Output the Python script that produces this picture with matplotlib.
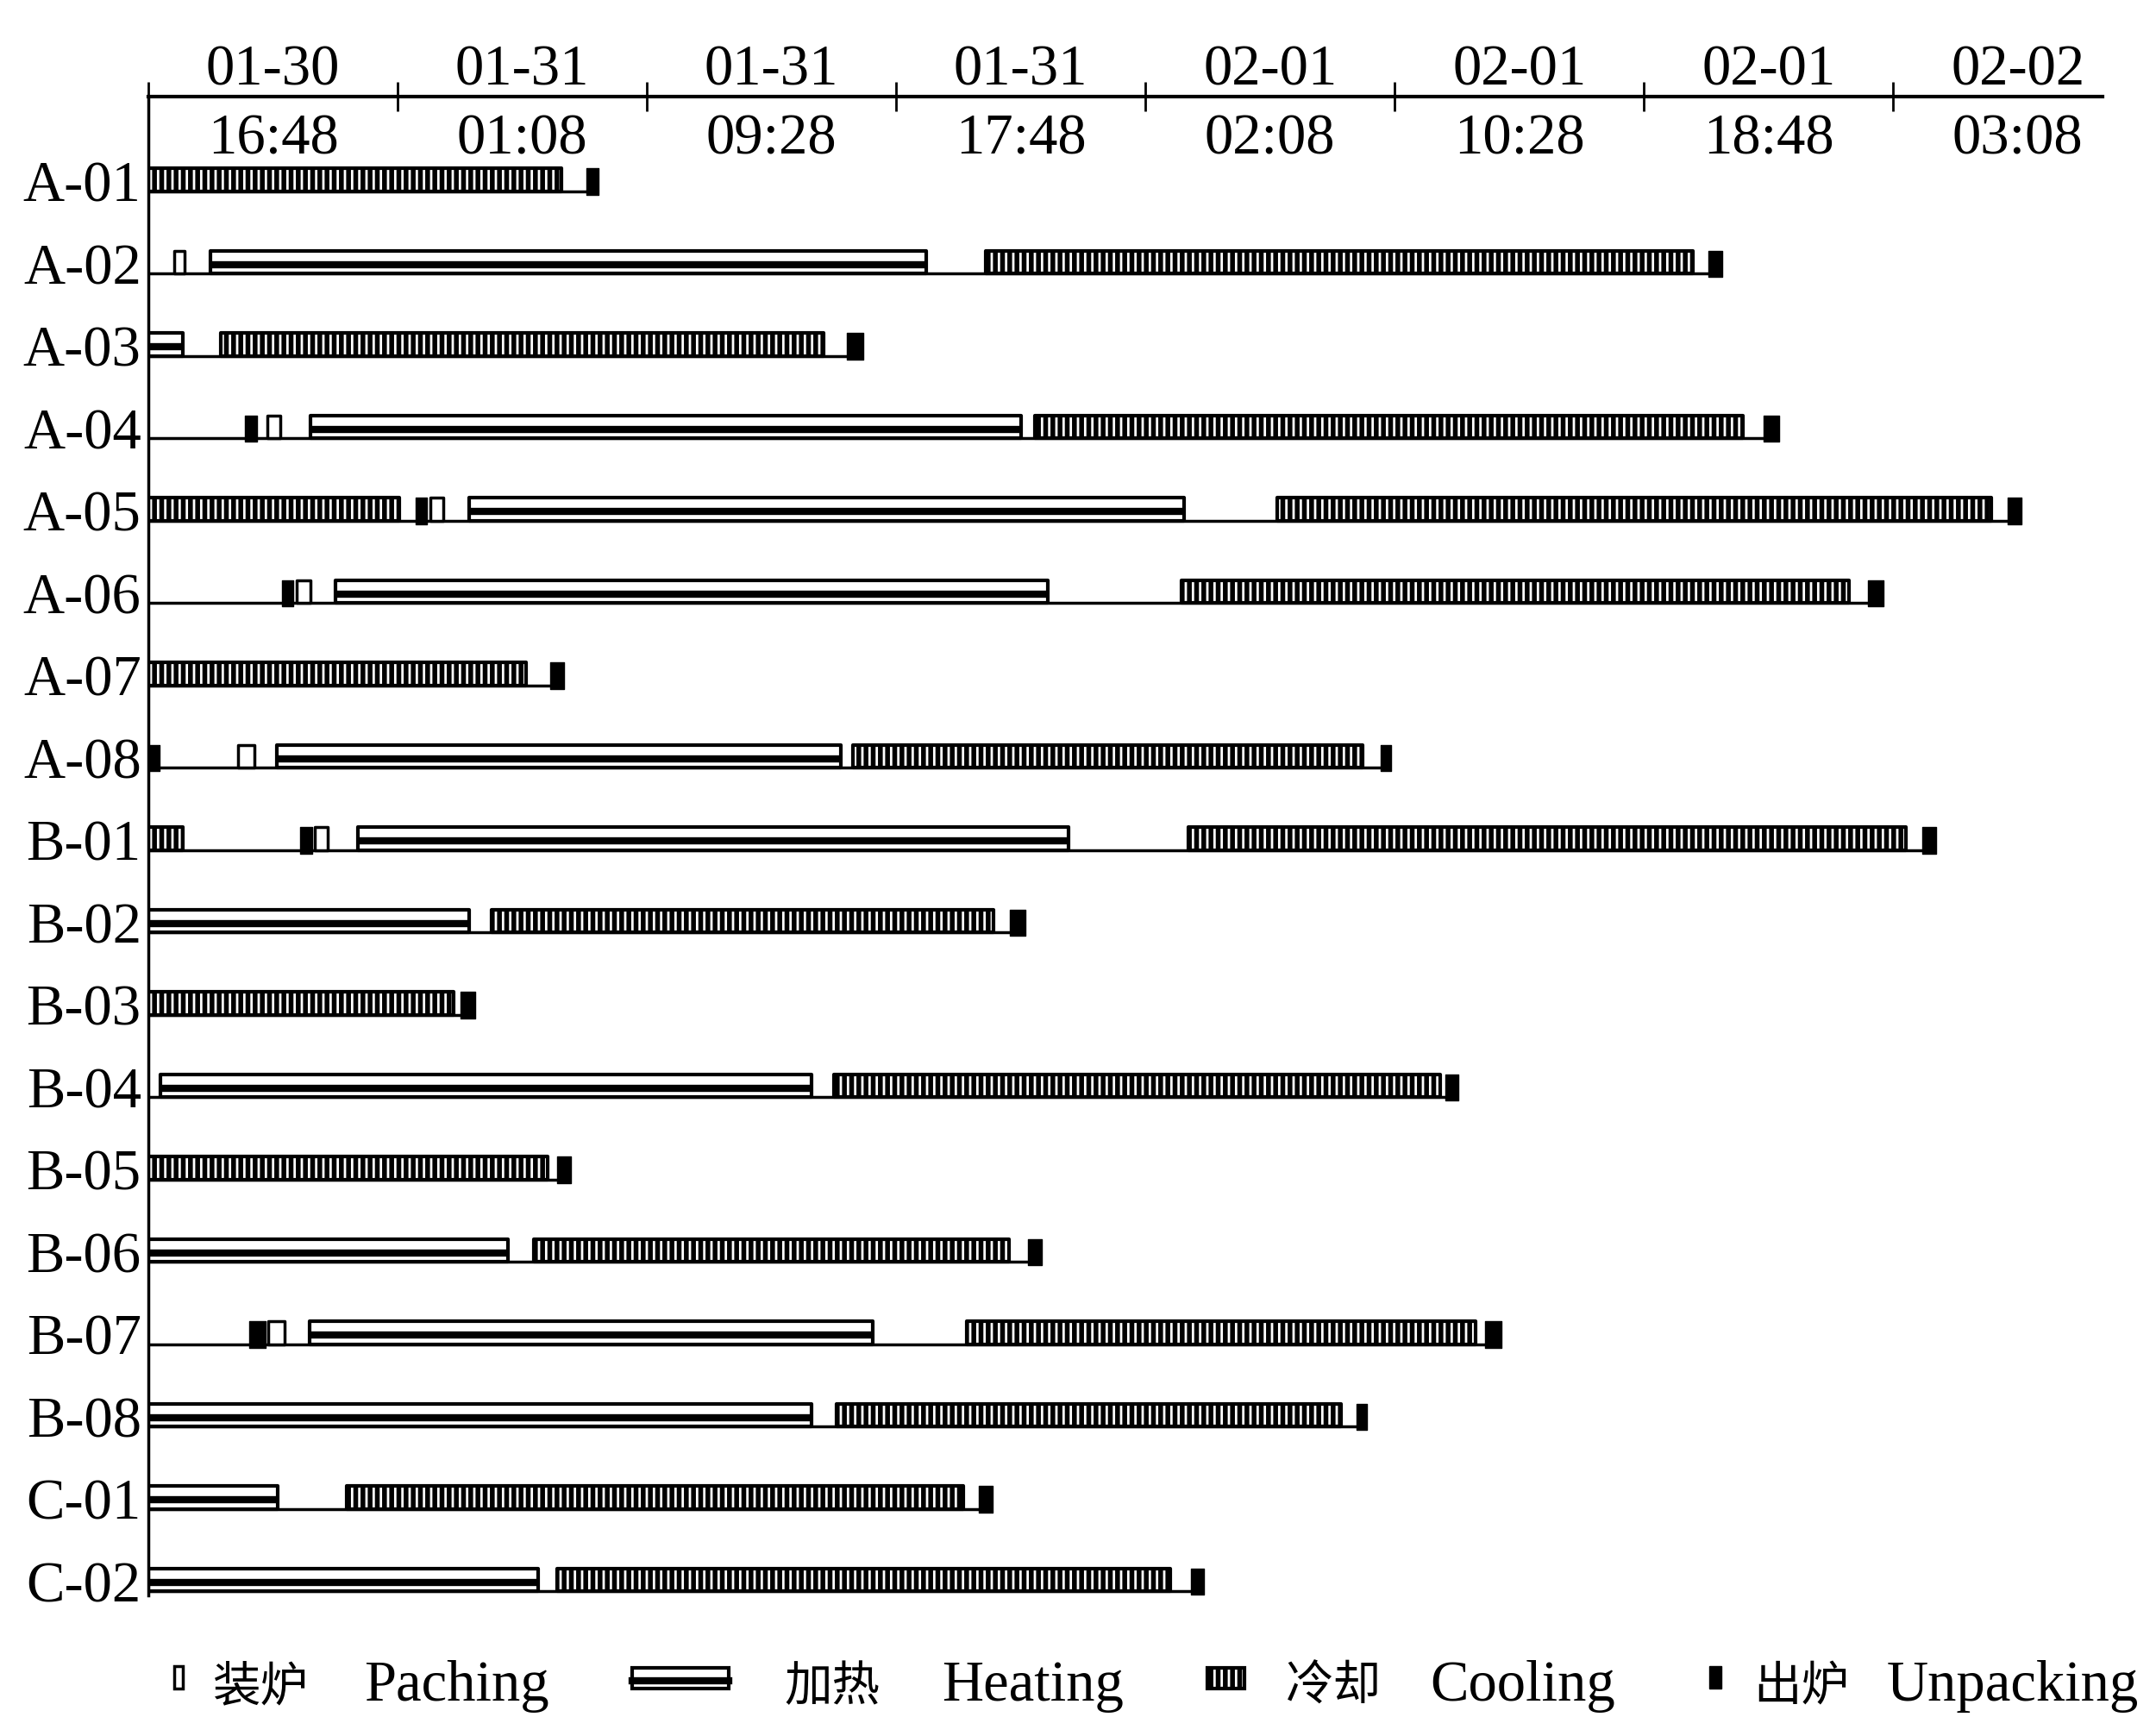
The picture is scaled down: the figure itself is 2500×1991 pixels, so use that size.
import matplotlib.pyplot as plt
from matplotlib.patches import Rectangle
from matplotlib.lines import Line2D

plt.rcParams['font.family'] = ['Liberation Serif', 'Noto Sans CJK SC']
plt.rcParams['hatch.linewidth'] = 4.0

# furnaces (rows, top to bottom)
machines = ['A-01', 'A-02', 'A-03', 'A-04', 'A-05', 'A-06', 'A-07', 'A-08',
            'B-01', 'B-02', 'B-03', 'B-04', 'B-05', 'B-06', 'B-07', 'B-08',
            'C-01', 'C-02']

# (start, end) in minutes after the left edge of the time axis
packing = [
    [], [(52, 72)], [], [(238, 265)], [(566, 591)], [(298, 326)], [], [(180, 213)],
    [(334, 359)], [], [], [], [], [], [(240, 273)], [],
    [], [],
]
heating = [
    [], [(124, 1561)], [(0, 69)], [(326, 1751)], [(644, 2077)], [(376, 1804)], [], [(257, 1389)],
    [(420, 1845)], [(0, 644)], [], [(25, 1331)], [], [(0, 721)], [(323, 1453)], [(0, 1331)],
    [(0, 260)], [(0, 782)],
]
cooling = [
    [(0, 829)], [(1680, 3099)], [(146, 1354)], [(1779, 3199)], [(0, 503), (2265, 3696)],
    [(2072, 3412)], [(0, 757)], [(1414, 2436)],
    [(0, 69), (2086, 3525)], [(688, 1696)], [(0, 613)], [(1376, 2591)], [(0, 801)],
    [(773, 1727)], [(1641, 2663)], [(1381, 2392)],
    [(398, 1635)], [(820, 2050)],
]
unpacking = [
    [(878, 903)], [(3130, 3157)], [(1401, 1434)], [(193, 218), (3240, 3271)],
    [(536, 558), (3729, 3757)], [(268, 290), (3450, 3481)], [(807, 834)], [(0, 22), (2472, 2492)],
    [(304, 329), (3558, 3586)], [(1729, 1760)], [(627, 655)], [(2602, 2627)], [(820, 848)],
    [(1765, 1793)], [(202, 235), (2682, 2715)], [(2423, 2445)],
    [(1666, 1693)], [(2091, 2118)],
]

tick_dates = ['01-30', '01-31', '01-31', '01-31', '02-01', '02-01', '02-01', '02-02']
tick_times = ['16:48', '01:08', '09:28', '17:48', '02:08', '10:28', '18:48', '03:08']
STEP = 500          # minutes between ticks (8h20)
X_MAX = 3920

legend_cn = ['装炉', '加热', '冷却', '出炉']
legend_en = ['Paching', 'Heating', 'Cooling', 'Unpacking']

H = 0.28      # bar height (rows)
BASE = 0.12   # baseline offset below row centre


def spans(segs):
    return [(s, e - s) for s, e in segs]


fig = plt.figure(figsize=(25, 19.91), dpi=100)
ax = fig.add_axes([0.0688, 0.0708, 0.9064, 0.8729])

for i in range(len(machines)):
    y0 = i + BASE - H
    ends = [e for segs in (packing[i], heating[i], cooling[i], unpacking[i]) for _, e in segs]
    ax.hlines(i + BASE, 0, max(ends), color='black', lw=2.5, zorder=1)
    ax.broken_barh(spans(heating[i]), (y0, H), facecolor='white', edgecolor='black',
                   lw=3, zorder=2)
    for s, e in heating[i]:
        ax.hlines(y0 + H * 0.6, s, e, color='black', lw=6, zorder=3)
    ax.broken_barh(spans(cooling[i]), (y0, H), facecolor='white', edgecolor='black',
                   hatch='||', lw=3, zorder=2)
    ax.broken_barh(spans(packing[i]), (y0, H), facecolor='white', edgecolor='black',
                   lw=2.5, zorder=2)
    ax.broken_barh(spans(unpacking[i]), (y0, H + 0.04), facecolor='black', edgecolor='black',
                   lw=1, zorder=2)

ax.set_xlim(0, X_MAX)
ax.set_ylim(len(machines) - 1 + 0.17, -1.03)

ax.set_xticks(range(0, X_MAX, STEP))
ax.tick_params(axis='x', top=True, bottom=False, labeltop=False, labelbottom=False,
               direction='inout', length=24, width=2)
ax.set_yticks(range(len(machines)))
ax.set_yticklabels(machines, fontsize=48)
ax.tick_params(axis='y', length=0, pad=6)

for side in ('bottom', 'right'):
    ax.spines[side].set_visible(False)
ax.spines['top'].set_linewidth(3)
ax.spines['left'].set_linewidth(2.5)

for k, (d, t) in enumerate(zip(tick_dates, tick_times)):
    xc = k * STEP + STEP / 2
    ax.annotate(d, xy=(xc, 1), xycoords=('data', 'axes fraction'), xytext=(0, 10),
                textcoords='offset points', ha='center', va='baseline', fontsize=48)
    ax.annotate(t, xy=(xc, 1), xycoords=('data', 'axes fraction'), xytext=(0, -48),
                textcoords='offset points', ha='center', va='baseline', fontsize=48)

# legend along the bottom, laid out in figure pixels
W, HT = 2500.0, 1991.0


def fx(px):
    return px / W


def fy(py):
    return 1 - py / HT


def key_rect(x0, x1, y0, y1, **kw):
    r = Rectangle((fx(x0), fy(y1)), fx(x1) - fx(x0), fy(y0) - fy(y1),
                  transform=fig.transFigure, **kw)
    fig.add_artist(r)


key_rect(202, 212, 1932, 1958, facecolor='white', edgecolor='black', lw=2.5)
key_rect(733, 845, 1934, 1958, facecolor='white', edgecolor='black', lw=3)
fig.add_artist(Line2D([fx(733), fx(845)], [fy(1949), fy(1949)], color='black', lw=6,
                      transform=fig.transFigure))
key_rect(1400, 1443, 1934, 1958, facecolor='white', edgecolor='black', hatch='||', lw=3)
key_rect(1982, 1996, 1932, 1958, facecolor='black', edgecolor='black', lw=1)

cn_x = [247, 909, 1491, 2033]
en_x = [422, 1092, 1658, 2188]
for cn, en, xc, xe in zip(legend_cn, legend_en, cn_x, en_x):
    fig.text(fx(xc), fy(1972), cn, fontsize=40, family=['Noto Sans CJK SC'],
             ha='left', va='baseline')
    fig.text(fx(xe), fy(1972), en, fontsize=48, ha='left', va='baseline')

fig.savefig('out.png', dpi=100)
